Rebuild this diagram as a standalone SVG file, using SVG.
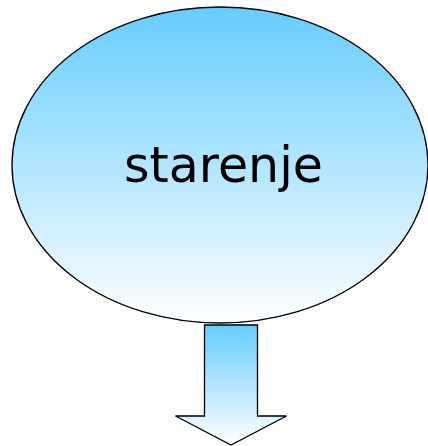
<svg xmlns="http://www.w3.org/2000/svg" width="428" height="446" viewBox="0 0 428 446">
<defs>
<linearGradient id="g" x1="0" y1="0" x2="0" y2="1">
<stop offset="0" stop-color="#66CCFF"/>
<stop offset="1" stop-color="#FFFFFF"/>
</linearGradient>
<style>
.shape{fill:url(#g);stroke:#000;stroke-width:1.3}
.lbl{font-family:"DejaVu Sans",sans-serif;font-size:49px;fill:#000;text-anchor:middle}
</style>
</defs>
<rect width="428" height="446" fill="#fff"/>
<g id="connectors">
<path class="shape" d="M204.5 325 L257.5 325 L257.5 416 L286.5 416 L231 445 L175.5 416 L204.5 416 Z"/>
</g>
<g id="node-starenje">
<ellipse class="shape" cx="220" cy="165" rx="208" ry="158"/>
<text class="lbl" x="223.5" y="182">starenje</text>
</g>
</svg>
